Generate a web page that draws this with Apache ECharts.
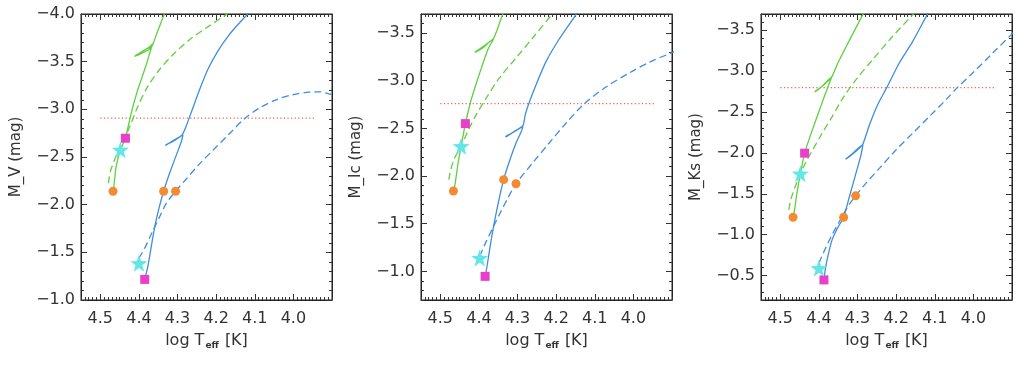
<!DOCTYPE html>
<html><head><meta charset="utf-8">
<script src="https://cdn.jsdelivr.net/npm/echarts@6/dist/echarts.min.js"></script>
<style>html,body{margin:0;padding:0;background:#fff}#c{width:1024px;height:366px}</style>
</head><body><div id="c"></div>
<script>
// ---------- data ----------
const yTitles = ['M_V (mag)', 'M_Ic (mag)', 'M_Ks (mag)'];
const yRanges = [[-4.0, -1.0], [-3.7, -0.7], [-3.7, -0.2]];
const xRange = [3.9, 4.55];

// Panel 1: M_V
const greenSolidV = [[4.467,-2.141],[4.465,-2.19],[4.459,-2.40],[4.448,-2.575],[4.435,-2.697],[4.420,-2.96],[4.403,-3.205],[4.381,-3.468],[4.368,-3.643],[4.364,-3.688],[4.374,-3.65],[4.390,-3.61],[4.406,-3.573],[4.411,-3.555],[4.407,-3.562],[4.392,-3.59],[4.375,-3.625],[4.364,-3.681],[4.355,-3.783],[4.334,-4.0],[4.330,-4.05]];
const greenDashedV = [[4.479,-2.225],[4.474,-2.347],[4.463,-2.47],[4.450,-2.592],[4.435,-2.715],[4.420,-2.855],[4.403,-3.03],[4.377,-3.24],[4.347,-3.415],[4.312,-3.573],[4.269,-3.73],[4.226,-3.853],[4.174,-3.993],[4.165,-4.02]];
const blueSolidV = [[4.385,-1.216],[4.377,-1.35],[4.368,-1.56],[4.359,-1.77],[4.347,-1.98],[4.336,-2.141],[4.319,-2.347],[4.302,-2.533],[4.290,-2.662],[4.286,-2.732],[4.295,-2.708],[4.312,-2.663],[4.330,-2.627],[4.331,-2.62],[4.325,-2.638],[4.308,-2.68],[4.288,-2.732],[4.278,-2.82],[4.262,-2.995],[4.243,-3.205],[4.222,-3.415],[4.196,-3.608],[4.166,-3.783],[4.140,-3.905],[4.118,-4.0],[4.110,-4.03]];
const blueDashedV = [[4.400,-1.437],[4.383,-1.56],[4.367,-1.70],[4.348,-1.857],[4.330,-2.008],[4.305,-2.141],[4.278,-2.267],[4.243,-2.428],[4.209,-2.568],[4.166,-2.743],[4.127,-2.901],[4.088,-3.013],[4.045,-3.10],[4.002,-3.153],[3.959,-3.181],[3.933,-3.184],[3.902,-3.156],[3.88,-3.13]];
const circlesV = [[4.467,-2.141],[4.336,-2.141],[4.305,-2.141]];
const squaresV = [[4.435,-2.697],[4.385,-1.216]];
const starsV = [[4.448,-2.575],[4.400,-1.385]];
const redLineV = [[4.50,-2.907],[3.945,-2.907]];

// Panel 2: M_Ic
const greenSolidI = [[4.466,-1.843],[4.462,-1.91],[4.454,-2.137],[4.446,-2.312],[4.435,-2.55],[4.420,-2.801],[4.398,-3.081],[4.377,-3.326],[4.362,-3.438],[4.374,-3.403],[4.390,-3.343],[4.405,-3.308],[4.411,-3.298],[4.405,-3.315],[4.388,-3.361],[4.371,-3.413],[4.362,-3.445],[4.351,-3.553],[4.338,-3.703],[4.333,-3.76]];
const greenDashedI = [[4.478,-1.962],[4.473,-2.067],[4.463,-2.19],[4.446,-2.312],[4.429,-2.469],[4.407,-2.644],[4.381,-2.819],[4.347,-3.029],[4.304,-3.238],[4.261,-3.448],[4.209,-3.703],[4.200,-3.74]];
const blueSolidI = [[4.384,-0.948],[4.379,-1.054],[4.371,-1.263],[4.362,-1.473],[4.350,-1.717],[4.336,-1.962],[4.319,-2.179],[4.302,-2.364],[4.290,-2.469],[4.286,-2.522],[4.297,-2.494],[4.314,-2.452],[4.330,-2.417],[4.331,-2.41],[4.325,-2.424],[4.308,-2.469],[4.286,-2.529],[4.280,-2.644],[4.271,-2.759],[4.252,-2.959],[4.226,-3.203],[4.192,-3.438],[4.147,-3.703],[4.140,-3.74]];
const blueDashedI = [[4.398,-1.158],[4.381,-1.315],[4.364,-1.455],[4.345,-1.613],[4.325,-1.77],[4.304,-1.920],[4.261,-2.137],[4.218,-2.347],[4.174,-2.557],[4.127,-2.759],[4.071,-2.934],[4.011,-3.081],[3.959,-3.193],[3.902,-3.291],[3.88,-3.32]];
const circlesI = [[4.466,-1.843],[4.336,-1.962],[4.304,-1.920]];
const squaresI = [[4.435,-2.55],[4.384,-0.948]];
const starsI = [[4.446,-2.312],[4.398,-1.14]];
const redLineI = [[4.50,-2.759],[3.945,-2.759]];

// Panel 3: M_Ks
const greenSolidK = [[4.467,-1.213],[4.463,-1.303],[4.457,-1.507],[4.448,-1.744],[4.437,-1.997],[4.420,-2.242],[4.403,-2.467],[4.386,-2.691],[4.367,-2.928],[4.377,-2.887],[4.394,-2.806],[4.407,-2.765],[4.411,-2.745],[4.405,-2.765],[4.390,-2.822],[4.375,-2.887],[4.366,-2.936],[4.351,-3.10],[4.330,-3.296],[4.308,-3.496],[4.285,-3.704],[4.280,-3.75]];
const greenDashedK = [[4.478,-1.303],[4.473,-1.426],[4.463,-1.569],[4.448,-1.744],[4.433,-1.895],[4.416,-2.038],[4.394,-2.222],[4.368,-2.426],[4.338,-2.671],[4.304,-2.896],[4.261,-3.141],[4.213,-3.406],[4.157,-3.692],[4.150,-3.73]];
const blueSolidK = [[4.387,-0.446],[4.383,-0.589],[4.376,-0.752],[4.366,-0.936],[4.352,-1.079],[4.336,-1.213],[4.321,-1.466],[4.304,-1.752],[4.291,-1.977],[4.286,-2.099],[4.295,-2.071],[4.312,-1.997],[4.328,-1.936],[4.331,-1.924],[4.325,-1.94],[4.308,-2.005],[4.291,-2.079],[4.286,-2.108],[4.269,-2.344],[4.248,-2.589],[4.224,-2.802],[4.192,-3.10],[4.157,-3.365],[4.118,-3.704],[4.110,-3.75]];
const blueDashedK = [[4.400,-0.65],[4.383,-0.834],[4.366,-0.997],[4.347,-1.16],[4.325,-1.344],[4.305,-1.475],[4.278,-1.630],[4.243,-1.814],[4.200,-2.038],[4.157,-2.242],[4.114,-2.446],[4.071,-2.651],[4.041,-2.802],[4.002,-2.977],[3.950,-3.222],[3.902,-3.447],[3.88,-3.55]];
const circlesK = [[4.467,-1.213],[4.336,-1.213],[4.305,-1.475]];
const squaresK = [[4.437,-1.997],[4.387,-0.446]];
const starsK = [[4.448,-1.744],[4.400,-0.589]];
const redLineK = [[4.50,-2.80],[3.945,-2.80]];

const panels = [
  {gs: greenSolidV, gd: greenDashedV, bs: blueSolidV, bd: blueDashedV, circ: circlesV, sq: squaresV, st: starsV, red: redLineV},
  {gs: greenSolidI, gd: greenDashedI, bs: blueSolidI, bd: blueDashedI, circ: circlesI, sq: squaresI, st: starsI, red: redLineI},
  {gs: greenSolidK, gd: greenDashedK, bs: blueSolidK, bd: blueDashedK, circ: circlesK, sq: squaresK, st: starsK, red: redLineK}
];

// ---------- chart ----------
const FONT = 'DejaVu Sans';
const TXT = '#333';
const GREEN = '#5fd03e';
const BLUE = '#3d8edf';
const STAR = 'path://M50,0 L62,34 L98,35 L69,57 L80,92 L50,71 L20,92 L31,57 L2,35 L38,34 Z';
const gridLefts = [81, 421, 761];
const tickStyle = () => ({color: '#333', width: 1});
const lineAx = () => ({color: '#222', width: 1});

const fmtY = v => (v < 0 ? '\u2212' : '') + Math.abs(v).toFixed(1);

const grids = [], xAxes = [], yAxes = [], series = [];
panels.forEach((p, i) => {
  grids.push({left: gridLefts[i], top: 14, width: 251, height: 286, show: true, borderColor: '#222', borderWidth: 1, backgroundColor: 'transparent'});
  const yr = yRanges[i];
  for (let k = 0; k < 4; k++) {
    const minor = (k % 2) === 1;
    const main = k === 0;
    const xa = {
      type: 'value', gridIndex: i, min: xRange[0], max: xRange[1], inverse: true,
      position: k < 2 ? 'bottom' : 'top', interval: minor ? 0.01 : 0.1,
      axisLine: {show: !minor, onZero: false, lineStyle: lineAx()},
      axisTick: {show: true, inside: true, length: minor ? 3 : 6, lineStyle: tickStyle()},
      axisLabel: {show: main},
      splitLine: {show: false}
    };
    if (main) {
      xa.axisLabel = {show: true, showMinLabel: false, showMaxLabel: false, margin: 11, fontSize: 16, fontFamily: FONT, color: TXT, formatter: v => v.toFixed(1)};
      xa.name = '{n|log T}{s|eff}{n| [K]}';
      xa.nameLocation = 'middle';
      xa.nameGap = 31;
      xa.nameTextStyle = {fontFamily: FONT, color: TXT, rich: {
        n: {fontSize: 16, fontFamily: FONT, color: TXT, lineHeight: 20},
        s: {fontSize: 9, fontFamily: FONT, color: TXT, fontWeight: 'bold', padding: [9, 1, 0, 1], lineHeight: 20}}};
    }
    xAxes.push(xa);

    const ya = {
      type: 'value', gridIndex: i, min: yr[0], max: yr[1], inverse: true,
      position: k < 2 ? 'left' : 'right',
      axisLine: {show: !minor, onZero: false, lineStyle: lineAx()},
      axisTick: {show: true, inside: true, length: minor ? 3 : 6, lineStyle: tickStyle()},
      axisLabel: {show: main},
      splitLine: {show: false}
    };
    if (minor) ya.interval = 0.1;
    else if (i === 0) ya.interval = 0.5;
    else ya.splitNumber = Math.round((yr[1] - yr[0]) / 0.5);
    if (main) {
      ya.axisLabel = {show: true, showMinLabel: i === 0, showMaxLabel: i === 0, margin: 6, fontSize: 16, fontFamily: FONT, color: TXT, formatter: fmtY};
      ya.name = yTitles[i];
      ya.nameLocation = 'middle';
      ya.nameGap = 57;
      ya.nameRotate = 90;
      ya.nameTextStyle = {fontSize: 15, fontFamily: FONT, color: TXT};
    }
    yAxes.push(ya);
  }

  const xi = i * 4, yi = i * 4;
  const line = (data, color, type, w, smooth) => ({
    type: 'line', xAxisIndex: xi, yAxisIndex: yi, data: data, showSymbol: false, symbol: 'none',
    smooth: smooth, clip: true, silent: true,
    lineStyle: {color: color, width: w, type: type}
  });
  series.push(line(p.red, '#e8604e', [1.2, 2.4], 1.2, false));
  series.push(line(p.gd, GREEN, [7, 4], 1.3, 0.3));
  series.push(line(p.bd, BLUE, [7, 4], 1.3, 0.3));
  series.push(line(p.gs, GREEN, 'solid', 1.3, 0.2));
  series.push(line(p.bs, BLUE, 'solid', 1.3, 0.2));
  const sc = (data, symbol, size, color) => ({
    type: 'scatter', xAxisIndex: xi, yAxisIndex: yi, data: data, symbol: symbol, symbolSize: size,
    itemStyle: {color: color, opacity: 1}, silent: true, z: 5
  });
  series.push(sc(p.circ, 'circle', 9, '#f28b32'));
  series.push(sc(p.sq, 'rect', 9, '#e840c8'));
  series.push(sc(p.st, STAR, 17, '#62e6e6'));
});

const chart = echarts.init(document.getElementById('c'), null, {renderer: 'canvas'});
chart.setOption({
  animation: false,
  backgroundColor: '#fff',
  grid: grids, xAxis: xAxes, yAxis: yAxes, series: series
});
</script>
</body></html>
